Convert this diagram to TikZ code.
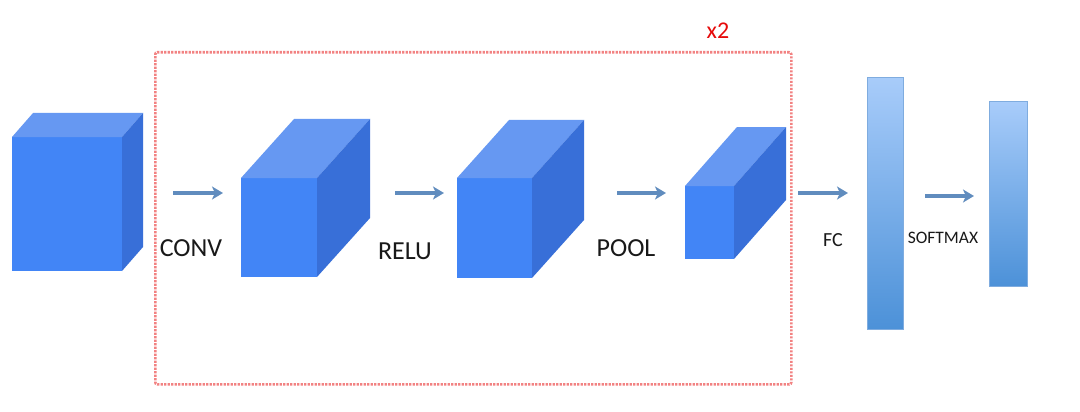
\documentclass[tikz,border=0pt]{standalone}
\usepackage{fontspec}
\setmainfont{Carlito}
\usetikzlibrary{arrows.meta}
\definecolor{frontc}{RGB}{66,133,246}
\definecolor{topc}{RGB}{102,152,242}
\definecolor{sidec}{RGB}{56,111,216}
\definecolor{arrc}{RGB}{96,140,190}
\definecolor{boxred}{RGB}{242,130,130}
\definecolor{barTop}{RGB}{168,204,250}
\definecolor{barBot}{RGB}{76,145,216}
\newcommand\drawcube[7]{%
  \node[frontface, minimum width=#4pt, minimum height=#5pt, anchor=north west] (#1) at (#2,#3) {};
  \fill[topc] (#1.north west) -- ++(#6,-#7) -- ++(#4,0) -- (#1.north east) -- cycle;
  \fill[sidec] (#1.north east) -- ++(#6,-#7) -- ++(0,#5) -- (#1.south east) -- cycle;
}
\tikzset{
  frontface/.style={fill=frontc, draw=none, inner sep=0pt, outer sep=0pt, rectangle},
  flow/.style={draw=arrc, line width=3.5pt, -{Stealth[length=11pt,width=13pt,inset=3pt]}},
  lbl/.style={anchor=base, inner sep=0pt, text=black!90, font=\fontsize{26}{28}\selectfont},
  bar/.style={rectangle, inner sep=0pt, top color=barTop, bottom color=barBot, draw=barBot!85!black!40!barTop, line width=0.6pt, anchor=north west},
}
\begin{document}
\begin{tikzpicture}[x=1pt,y=-1pt]
\useasboundingbox[fill=white] (0,0) rectangle (1080,412);
% dashed repeat box
\node[draw=boxred, line width=2.6pt, dash pattern=on 2.2pt off 1.3pt, rounded corners=2pt, inner sep=0pt, minimum width=636pt, minimum height=332pt, anchor=north west] (rep) at (154,51) {};
\node[anchor=base, inner sep=0pt, text={rgb,255:red,230;green,10;blue,10}, font=\fontsize{24}{26}\selectfont] (x2) at (718,39) {x2};
% cubes
\drawcube{c1}{12}{137}{110}{134}{21}{24}
\drawcube{c2}{241}{178}{76}{99}{53}{59}
\drawcube{c3}{457}{178}{75}{100}{52}{58}
\drawcube{c4}{685}{186}{49}{73}{52}{59}
% bars
\node[bar, minimum width=36pt, minimum height=252pt] (fc) at (867,77) {};
\node[bar, minimum width=38pt, minimum height=185pt] (sm) at (989,101) {};
% arrows
\coordinate (a1s) at (173,193); \coordinate (a1e) at (223,193);
\coordinate (a2s) at (395,193); \coordinate (a2e) at (444,193);
\coordinate (a3s) at (617,193); \coordinate (a3e) at (666,193);
\coordinate (a4s) at (798,193); \coordinate (a4e) at (848,193);
\coordinate (a5s) at (925,196); \coordinate (a5e) at (974,196);
\draw[flow] (a1s) -- (a1e);
\draw[flow] (a2s) -- (a2e);
\draw[flow] (a3s) -- (a3e);
\draw[flow] (a4s) -- (a4e);
\draw[flow] (a5s) -- (a5e);
% labels
\node[lbl] (lconv) at (191,256) {CONV};
\node[lbl] (lrelu) at (405,259) {RELU};
\node[lbl] (lpool) at (626,256.5) {POOL};
\node[lbl, font=\fontsize{20}{22}\selectfont] (lfc) at (833,246.5) {FC};
\node[lbl, font=\fontsize{17.5}{20}\selectfont] (lsm) at (943,243.5) {SOFTMAX};
\end{tikzpicture}
\end{document}
